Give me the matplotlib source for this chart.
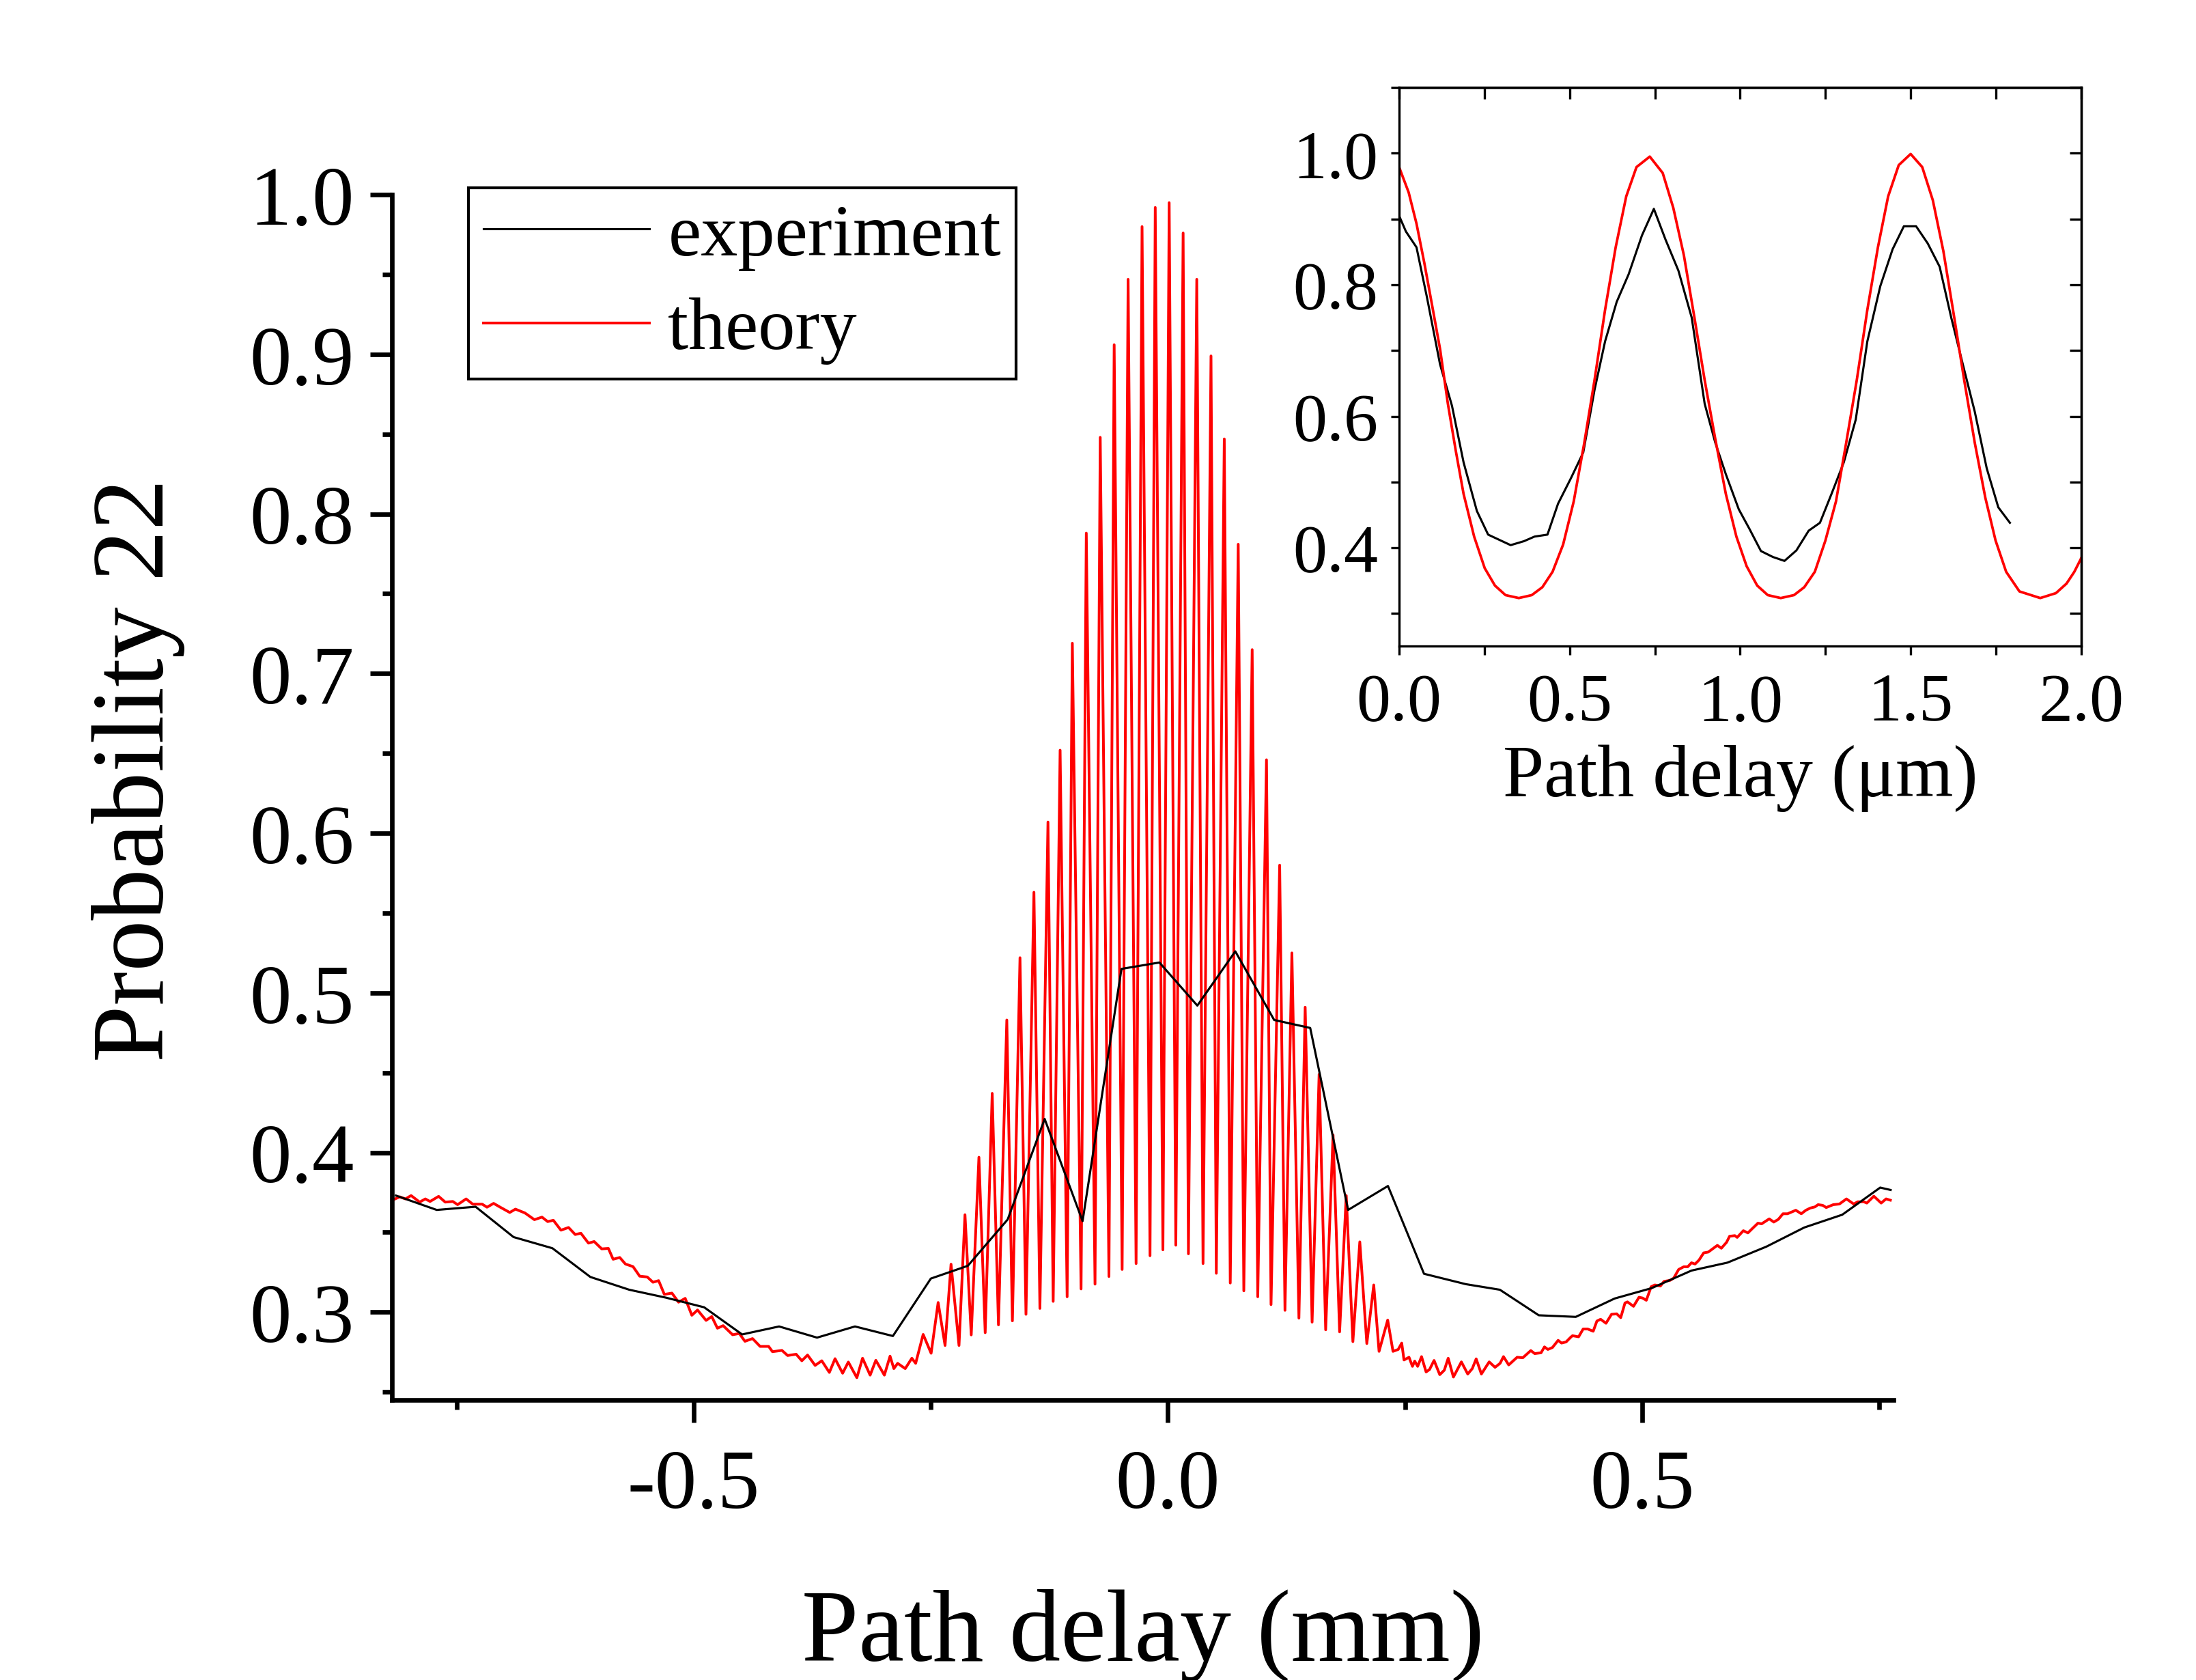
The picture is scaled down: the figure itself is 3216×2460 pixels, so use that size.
"""Two-photon interference: probability 22 vs path delay, with a zoomed inset."""
import matplotlib
matplotlib.use("Agg")
import matplotlib.pyplot as plt
from matplotlib.ticker import MultipleLocator, FormatStrFormatter
import numpy as np

plt.rcParams["font.family"] = ["Liberation Serif", "DejaVu Serif"]
plt.rcParams["axes.unicode_minus"] = False

# ---- main panel: experiment (mm) ----
EXP_X = [-0.814, -0.771, -0.730, -0.690, -0.649, -0.609, -0.568, -0.529, -0.489,
         -0.449, -0.410, -0.370, -0.330, -0.290, -0.250, -0.211, -0.169, -0.130,
         -0.090, -0.049, -0.009, 0.031, 0.071, 0.112, 0.150, 0.190, 0.232, 0.270,
         0.314, 0.350, 0.391, 0.430, 0.471, 0.510, 0.552, 0.590, 0.631, 0.671,
         0.711, 0.751, 0.762]
EXP_Y = [0.373, 0.364, 0.366, 0.347, 0.340, 0.322, 0.314, 0.309, 0.303,
         0.286, 0.291, 0.284, 0.291, 0.285, 0.321, 0.329, 0.358, 0.421,
         0.357, 0.515, 0.519, 0.492, 0.526, 0.483, 0.478, 0.364, 0.379, 0.324,
         0.3175, 0.314, 0.298, 0.297, 0.3085, 0.315, 0.326, 0.331, 0.341, 0.353,
         0.361, 0.378, 0.3765]

# ---- main panel: theory, left tail ----
TH_LEFT_X = [-0.816, -0.810, -0.804, -0.798, -0.789, -0.783, -0.778, -0.769, -0.762,
             -0.754, -0.749, -0.740, -0.733, -0.723, -0.718, -0.711, -0.704, -0.694,
             -0.688, -0.678, -0.668, -0.660, -0.654, -0.648, -0.640, -0.632, -0.625,
             -0.619, -0.611, -0.605, -0.597, -0.590, -0.585, -0.578, -0.572, -0.564,
             -0.557, -0.549, -0.543, -0.537, -0.531, -0.523, -0.516, -0.509, -0.502,
             -0.496, -0.487, -0.481, -0.475, -0.469, -0.459, -0.452, -0.446, -0.438,
             -0.430, -0.421, -0.417, -0.407, -0.401, -0.392, -0.386, -0.380, -0.372,
             -0.365, -0.357, -0.351, -0.343, -0.337, -0.328, -0.322, -0.314, -0.308,
             -0.299, -0.293, -0.289, -0.285, -0.277, -0.270, -0.266]
TH_LEFT_Y = [0.3706, 0.3722, 0.3709, 0.3730, 0.3689, 0.3709, 0.3693, 0.3725, 0.3689,
             0.3693, 0.3673, 0.3709, 0.3676, 0.3676, 0.3657, 0.3681, 0.3657, 0.3624,
             0.3645, 0.3621, 0.3579, 0.3595, 0.3567, 0.3575, 0.3513, 0.3530, 0.3486,
             0.3494, 0.3432, 0.3442, 0.3396, 0.3399, 0.3331, 0.3342, 0.3301, 0.3285,
             0.3225, 0.3220, 0.3187, 0.3197, 0.3111, 0.3119, 0.3062, 0.3086, 0.2980,
             0.3013, 0.2948, 0.2972, 0.2899, 0.2915, 0.2858, 0.2866, 0.2817, 0.2834,
             0.2785, 0.2785, 0.2752, 0.2760, 0.2728, 0.2736, 0.2695, 0.2731, 0.2666,
             0.2695, 0.2622, 0.2708, 0.2617, 0.2687, 0.2589, 0.2711, 0.2605, 0.2698,
             0.2605, 0.2724, 0.2646, 0.2679, 0.2646, 0.2711, 0.2679]

# ---- main panel: theory, fringe peaks / troughs ----
FRINGE_X = [-0.2581, -0.2497, -0.2423, -0.2350, -0.2287, -0.2203, -0.2140, -0.2074,
            -0.1993, -0.1927, -0.1853, -0.1787, -0.1699, -0.1640, -0.1560, -0.1497,
            -0.1413, -0.1350, -0.1265, -0.1210, -0.1137, -0.1063, -0.1008, -0.0916,
            -0.0861, -0.0769, -0.0714, -0.0622, -0.0567, -0.0483, -0.0420, -0.0336,
            -0.0273, -0.0189, -0.0134, -0.0053, 0.0013, 0.0083, 0.0160, 0.0216,
            0.0304, 0.0370, 0.0454, 0.0510, 0.0594, 0.0657, 0.0741, 0.0800,
            0.0888, 0.0947, 0.1039, 0.1087, 0.1178, 0.1234, 0.1307, 0.1381,
            0.1447, 0.1520, 0.1594, 0.1663, 0.1741, 0.1810, 0.1880, 0.1950,
            0.2023, 0.2097, 0.2170, 0.2226, 0.2317]
FRINGE_Y = [0.286, 0.2742, 0.306, 0.2791, 0.330, 0.2791, 0.361, 0.2857,
            0.397, 0.2871, 0.437, 0.2920, 0.483, 0.2945, 0.522, 0.2986,
            0.563, 0.3023, 0.607, 0.3067, 0.652, 0.3096, 0.719, 0.3145,
            0.788, 0.3175, 0.848, 0.3223, 0.906, 0.3267, 0.947, 0.3304,
            0.980, 0.3353, 0.992, 0.3390, 0.995, 0.3419, 0.976, 0.3365,
            0.947, 0.3304, 0.899, 0.3243, 0.847, 0.3182, 0.781, 0.3133,
            0.715, 0.3096, 0.646, 0.3047, 0.580, 0.3011, 0.525, 0.2962,
            0.491, 0.2937, 0.449, 0.2889, 0.411, 0.2876, 0.373, 0.2815,
            0.344, 0.2803, 0.317, 0.2754, 0.295]

# ---- main panel: theory, right tail ----
TH_RIGHT_X = [0.2373, 0.2428, 0.2465, 0.2489, 0.2542, 0.2578, 0.2602, 0.2633, 0.2674,
              0.2722, 0.2758, 0.2806, 0.2866, 0.2914, 0.2955, 0.3010, 0.3094, 0.3161,
              0.3209, 0.3250, 0.3305, 0.3387, 0.3449, 0.3502, 0.3538, 0.3593, 0.3682,
              0.3742, 0.3826, 0.3867, 0.3934, 0.3970, 0.4006, 0.4054, 0.4114, 0.4150,
              0.4198, 0.4246, 0.4266, 0.4330, 0.4378, 0.4426, 0.4484, 0.4523, 0.4562,
              0.4619, 0.4677, 0.4732, 0.4774, 0.4819, 0.4845, 0.4909, 0.4967, 0.5005,
              0.5044, 0.5095, 0.5134, 0.5192, 0.5230, 0.5295, 0.5333, 0.5385, 0.5439,
              0.5481, 0.5520, 0.5558, 0.5600, 0.5649, 0.5697, 0.5745, 0.5793, 0.5835,
              0.5890, 0.5922, 0.5977, 0.6002, 0.6067, 0.6115, 0.6163, 0.6221, 0.6260,
              0.6340, 0.6388, 0.6436, 0.6485, 0.6533, 0.6620, 0.6678, 0.6726, 0.6774,
              0.6822, 0.6855, 0.6903, 0.6941, 0.7015, 0.7080, 0.7154, 0.7231, 0.7273,
              0.7337, 0.7369, 0.7443, 0.7520, 0.7572, 0.7617]
TH_RIGHT_Y = [0.2754, 0.2766, 0.2806, 0.2700, 0.2717, 0.2660, 0.2693, 0.2660, 0.2721,
              0.2625, 0.2640, 0.2697, 0.2608, 0.2636, 0.2711, 0.2593, 0.2688, 0.2612,
              0.2646, 0.2707, 0.2612, 0.2688, 0.2654, 0.2679, 0.2721, 0.2669, 0.2717,
              0.2714, 0.2759, 0.2740, 0.2745, 0.2782, 0.2766, 0.2778, 0.2823, 0.2806,
              0.2813, 0.2842, 0.2852, 0.2845, 0.2894, 0.2894, 0.2880, 0.2944, 0.2955,
              0.2930, 0.2986, 0.2989, 0.2965, 0.3057, 0.3064, 0.3036, 0.3093, 0.3088,
              0.3074, 0.3159, 0.3170, 0.3163, 0.3192, 0.3199, 0.3213, 0.3267, 0.3284,
              0.3284, 0.3309, 0.3301, 0.3326, 0.3371, 0.3376, 0.3397, 0.3418, 0.3400,
              0.3437, 0.3475, 0.3479, 0.3468, 0.3510, 0.3496, 0.3524, 0.3557, 0.3553,
              0.3584, 0.3564, 0.3581, 0.3616, 0.3616, 0.3638, 0.3616, 0.3638, 0.3652,
              0.3659, 0.3673, 0.3669, 0.3655, 0.3673, 0.3677, 0.3709, 0.3677, 0.3691,
              0.3691, 0.3683, 0.3726, 0.3683, 0.3709, 0.3701]

# ---- inset (um) ----
IN_EXP_X = [0.0, 0.020, 0.051, 0.082, 0.120, 0.155, 0.189, 0.228, 0.261, 0.327,
            0.366, 0.397, 0.435, 0.466, 0.504, 0.540, 0.573, 0.604, 0.638, 0.673,
            0.712, 0.747, 0.781, 0.819, 0.858, 0.896, 0.927, 0.958, 0.996, 1.027,
            1.061, 1.096, 1.130, 1.165, 1.201, 1.234, 1.268, 1.304, 1.339, 1.373,
            1.411, 1.447, 1.480, 1.516, 1.550, 1.585, 1.619, 1.653, 1.688, 1.723,
            1.757, 1.791]
IN_EXP_Y = [0.905, 0.881, 0.857, 0.780, 0.679, 0.616, 0.530, 0.456, 0.420, 0.404,
            0.410, 0.417, 0.420, 0.467, 0.506, 0.545, 0.640, 0.714, 0.774, 0.816,
            0.875, 0.9155, 0.869, 0.8215, 0.750, 0.619, 0.560, 0.512, 0.4585, 0.429,
            0.395, 0.386, 0.380, 0.396, 0.426, 0.438, 0.482, 0.530, 0.595, 0.714,
            0.798, 0.854, 0.889, 0.889, 0.863, 0.8275, 0.750, 0.679, 0.607, 0.521,
            0.4615, 0.438]
IN_TH_X = [0.0, 0.028, 0.051, 0.074, 0.097, 0.120, 0.143, 0.166, 0.189, 0.220,
           0.251, 0.281, 0.312, 0.351, 0.389, 0.420, 0.450, 0.481, 0.512, 0.543,
           0.573, 0.604, 0.635, 0.666, 0.696, 0.735, 0.773, 0.804, 0.835, 0.866,
           0.896, 0.927, 0.958, 0.989, 1.019, 1.050, 1.081, 1.119, 1.158, 1.188,
           1.219, 1.250, 1.281, 1.311, 1.342, 1.373, 1.404, 1.434, 1.465, 1.500,
           1.534, 1.565, 1.596, 1.626, 1.657, 1.688, 1.719, 1.749, 1.780, 1.819,
           1.880, 1.926, 1.957, 1.980, 2.0]
IN_TH_Y = [0.979, 0.9405, 0.893, 0.833, 0.768, 0.7025, 0.619, 0.548, 0.482, 0.417,
           0.369, 0.3425, 0.328, 0.3235, 0.328, 0.340, 0.3635, 0.405, 0.4705, 0.5597,
           0.655, 0.762, 0.857, 0.9345, 0.979, 0.995, 0.970, 0.917, 0.845, 0.750,
           0.655, 0.5657, 0.482, 0.417, 0.372, 0.3425, 0.328, 0.3235, 0.328, 0.340,
           0.3635, 0.411, 0.4705, 0.5597, 0.655, 0.762, 0.857, 0.9345, 0.982, 0.999,
           0.979, 0.9286, 0.851, 0.756, 0.655, 0.5597, 0.476, 0.411, 0.3635, 0.3336,
           0.3235, 0.331, 0.3455, 0.3635, 0.384]


def main():
    th_x = np.concatenate([TH_LEFT_X, FRINGE_X, TH_RIGHT_X])
    th_y = np.concatenate([TH_LEFT_Y, FRINGE_Y, TH_RIGHT_Y])

    fig = plt.figure(figsize=(10.72, 8.2033), dpi=300)

    # main axes
    ax = fig.add_axes([0.17857, 0.16667, 0.68367, 0.71708])
    l_th, = ax.plot(th_x, th_y, color="red", lw=0.95, label="theory", zorder=2)
    l_ex, = ax.plot(EXP_X, EXP_Y, color="black", lw=0.75, label="experiment", zorder=3)
    ax.set_xlim(-0.818, 0.765)
    ax.set_ylim(0.245, 1.0)
    for s in ("top", "right"):
        ax.spines[s].set_visible(False)
    for s in ("left", "bottom"):
        ax.spines[s].set_linewidth(1.6)
    ax.xaxis.set_major_locator(MultipleLocator(0.5))
    ax.xaxis.set_minor_locator(MultipleLocator(0.25))
    ax.yaxis.set_major_locator(MultipleLocator(0.1))
    ax.yaxis.set_minor_locator(MultipleLocator(0.05))
    ax.xaxis.set_major_formatter(FormatStrFormatter("%.1f"))
    ax.yaxis.set_major_formatter(FormatStrFormatter("%.1f"))
    ax.tick_params(which="major", direction="out", length=7.8, width=1.6, labelsize=29.5)
    ax.tick_params(which="minor", direction="out", length=3.4, width=1.6)
    ax.tick_params(axis="x", which="major", pad=9.3)
    ax.tick_params(axis="y", which="major", pad=5.5)
    ax.set_xlabel("Path delay (mm)", fontsize=36)
    ax.xaxis.set_label_coords(0.5, -0.1565)
    ax.set_ylabel("Probability 22", fontsize=36)
    ax.yaxis.set_label_coords(-0.1378, 0.523)

    leg = ax.legend(handles=[l_ex, l_th], loc="upper left",
                    bbox_to_anchor=(0.2133, 0.8878), bbox_transform=fig.transFigure,
                    fontsize=26, fancybox=False, edgecolor="black", framealpha=1,
                    borderpad=0.2, labelspacing=0.36, handlelength=2.25,
                    handletextpad=0.25, borderaxespad=0)
    leg.get_frame().set_linewidth(1.0)

    # inset
    axin = fig.add_axes([0.63712, 0.615, 0.31059, 0.3325])
    axin.plot(IN_EXP_X, IN_EXP_Y, color="black", lw=0.75)
    axin.plot(IN_TH_X, IN_TH_Y, color="red", lw=0.9)
    axin.set_xlim(0, 2.0)
    axin.set_ylim(0.25, 1.1)
    for s in axin.spines.values():
        s.set_linewidth(0.8)
    axin.xaxis.set_major_locator(MultipleLocator(0.5))
    axin.xaxis.set_minor_locator(MultipleLocator(0.25))
    axin.yaxis.set_major_locator(MultipleLocator(0.2))
    axin.yaxis.set_minor_locator(MultipleLocator(0.1))
    axin.xaxis.set_major_formatter(FormatStrFormatter("%.1f"))
    axin.yaxis.set_major_formatter(FormatStrFormatter("%.1f"))
    axin.tick_params(which="both", direction="out", length=3, width=0.8, labelsize=24)
    axin.tick_params(axis="x", which="major", pad=6.2)
    axin.tick_params(axis="y", which="major", pad=4.3)
    axin.set_xlabel("Path delay (\u03bcm)", fontsize=26)
    axin.xaxis.set_label_coords(0.5, -0.175)

    # mirrored inward ticks on top / right of the inset
    sx = axin.secondary_xaxis("top")
    sx.xaxis.set_major_locator(MultipleLocator(0.5))
    sx.xaxis.set_minor_locator(MultipleLocator(0.25))
    sx.tick_params(which="both", direction="in", length=4, width=0.8,
                   labeltop=False, labelbottom=False)
    sy = axin.secondary_yaxis("right")
    sy.yaxis.set_major_locator(MultipleLocator(0.2))
    sy.yaxis.set_minor_locator(MultipleLocator(0.1))
    sy.tick_params(which="both", direction="in", length=4, width=0.8,
                   labelright=False, labelleft=False)
    for s in list(sx.spines.values()) + list(sy.spines.values()):
        s.set_linewidth(0.8)

    fig.savefig("out.png", dpi=300)


if __name__ == "__main__":
    main()
